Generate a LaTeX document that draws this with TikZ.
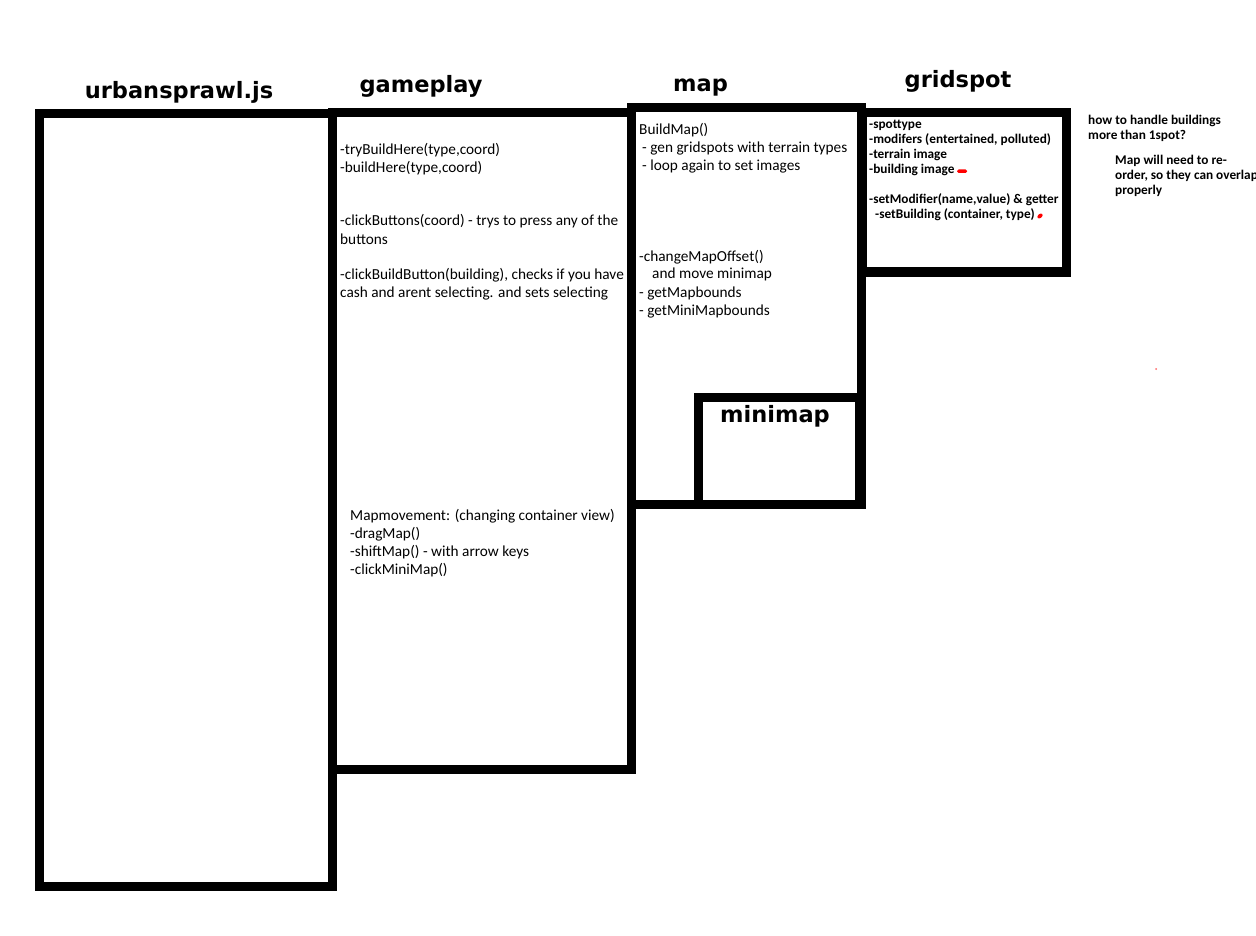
\documentclass[tikz,border=0pt]{standalone}
\usepackage{fontspec}
\setmainfont{Carlito}
\newfontfamily\titlefont{DejaVu Sans}
\begin{document}
\begin{tikzpicture}[x=1pt,y=-1pt,
  boite/.style={line width=9pt},
  titre/.style={anchor=base,inner sep=0pt,font=\titlefont\bfseries\fontsize{22.5}{28}\selectfont},
  texte/.style={anchor=base west,inner sep=0pt,align=left,font=\fontsize{15.3}{18}\selectfont},
  petit/.style={anchor=base west,inner sep=0pt,align=left,font=\bfseries\fontsize{13.3}{15}\selectfont}]
  \useasboundingbox (0,0) rectangle (1256,936);
  \fill[white] (0,0) rectangle (1256,936);
  % les boites
  \draw[boite] (39,113.5) rectangle (332.5,886);
  \draw[boite] (332.5,113) rectangle (631,769.5);
  \draw[boite] (631,108) rectangle (861.5,504);
  \draw[boite] (698.5,397.5) rectangle (859.5,504);
  \draw[boite] (862,113) rectangle (1066.5,272);
  % titres
  \node[titre] (urbansprawl) at (179,99) {urbansprawl.js};
  \node[titre] (gameplay) at (421,93) {gameplay};
  \node[titre] (map) at (700.5,92) {map};
  \node[titre] (gridspot) at (958,88) {gridspot};
  \node[titre] (minimap) at (775,422) {minimap};
  % gameplay (ancre = ligne de base de la derniere ligne)
  \node[texte] (gpbuild) at (340,298) {-tryBuildHere(type,coord)\\-buildHere(type,coord)\\[36pt]-clickButtons(coord) - trys to press any of the\\buttons\\[18pt]-clickBuildButton(building), checks if you have\\cash and arent selecting. and sets selecting};
  \node[texte] (gpmove) at (350,574) {Mapmovement: (changing container view)\\-dragMap()\\-shiftMap() - with arrow keys\\-clickMiniMap()};
  % map
  \node[texte] (mapbuild) at (639,171) {BuildMap()\\\hspace*{3pt}- gen gridspots with terrain types\\\hspace*{3pt}- loop again to set images};
  \node[texte] (mapoffset) at (639,315) {-changeMapOffset()\\\hspace*{13pt}and move minimap\\- getMapbounds\\- getMiniMapbounds};
  % gridspot
  \node[petit] (gsattr) at (869,219) {-spottype\\-modifers (entertained, polluted)\\-terrain image\\-building image\\[15pt]-setModifier(name,value) \& getter\\\hspace*{6pt}-setBuilding (container, type)};
  \node[petit] (question) at (1088,140) {how to handle buildings\\more than 1spot?};
  \node[petit] (reorder) at (1115,195) {Map will need to re-\\order, so they can overlap\\properly};
  % traits rouges
  \fill[red,rounded corners=1.5pt] (957,169.5) rectangle (967,173);
  \fill[red,rotate around={40:(1040,216)}] (1040,216) ellipse (3pt and 2pt);
  \fill[red!60] (1156,369) circle (1pt);
\end{tikzpicture}
\end{document}
